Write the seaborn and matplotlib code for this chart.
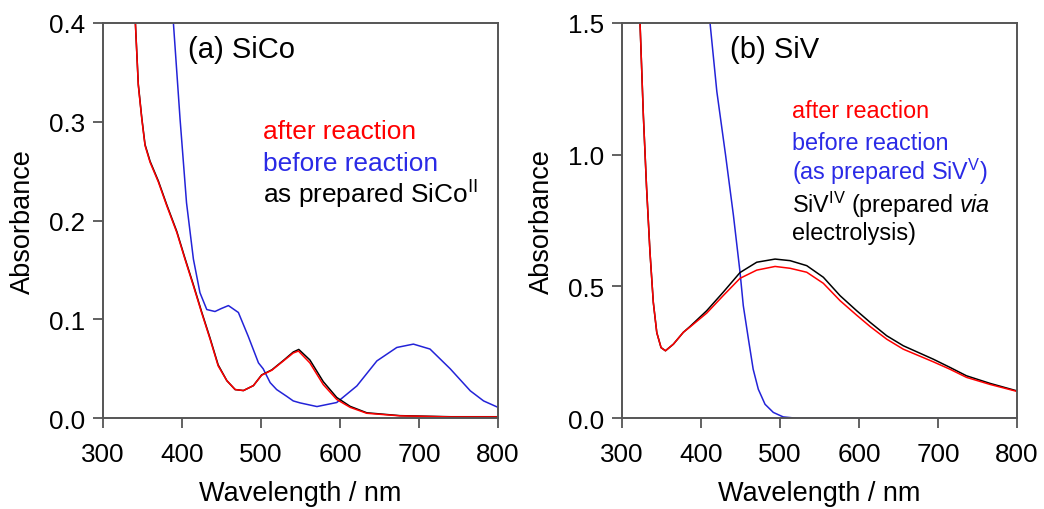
import matplotlib
matplotlib.use("Agg")
import matplotlib.pyplot as plt
import seaborn as sns
import pandas as pd

# ---------------- data ----------------
# Panel (a) SiCo
a_after_wl = [330, 341.3, 345, 349.4, 353.5, 359.9, 370.4, 381, 393.7, 404, 414.7, 425, 435.8, 446, 457, 467.5, 478,
              490.6, 501, 514, 528.6, 541, 547.6, 562, 579, 596, 613, 634, 676, 740, 800]
a_after_A  = [0.52, 0.40, 0.337, 0.303, 0.276, 0.259, 0.239, 0.215, 0.188, 0.161, 0.134, 0.107, 0.080, 0.053, 0.038, 0.029, 0.028,
              0.033, 0.0435, 0.0486, 0.058, 0.066, 0.068, 0.056, 0.034, 0.019, 0.011, 0.005, 0.0024, 0.0013, 0.0013]
a_prep_wl  = [330, 341.3, 345, 349.4, 353.5, 359.9, 370.4, 381, 393.7, 404, 414.7, 425, 435.8, 446, 457, 467.5, 478,
              490.6, 501, 514, 528.6, 541, 548, 562, 579, 596, 613, 634, 676, 740, 800]
a_prep_A   = [0.52, 0.40, 0.338, 0.304, 0.277, 0.260, 0.240, 0.216, 0.189, 0.162, 0.135, 0.108, 0.081, 0.054, 0.038, 0.029, 0.028,
              0.033, 0.0438, 0.049, 0.0585, 0.067, 0.0696, 0.059, 0.037, 0.021, 0.012, 0.0055, 0.0026, 0.0015, 0.0015]
a_before_wl = [380, 389.4, 397.8, 406, 414.7, 423, 431.6, 442, 450, 459, 471.6, 484, 497, 503, 511.8, 520, 533, 541, 549.7,
               571, 596, 621.5, 646.8, 672, 693, 714, 739.6, 765, 781.8, 800]
a_before_A  = [0.53, 0.40, 0.303, 0.218, 0.161, 0.127, 0.110, 0.108, 0.111, 0.114, 0.107, 0.083, 0.056, 0.050, 0.036, 0.029, 0.022, 0.0175, 0.0155,
               0.0118, 0.0159, 0.0327, 0.058, 0.0716, 0.075, 0.070, 0.050, 0.0277, 0.0175, 0.011]

# Panel (b) SiV
b_after_wl = [318, 322.8, 327, 331, 335.4, 339.6, 344, 349.4, 355, 365, 377.6, 386, 407.2, 428, 449.4, 470.5,
              493.7, 512.7, 533.8, 554.8, 576, 597, 614, 635, 656, 694, 715, 736, 766, 799.6]
b_after_A  = [2.0, 1.50, 1.15, 0.88, 0.63, 0.44, 0.325, 0.268, 0.256, 0.281, 0.326, 0.346, 0.399, 0.465, 0.531, 0.562,
              0.576, 0.569, 0.554, 0.512, 0.446, 0.391, 0.348, 0.300, 0.262, 0.214, 0.186, 0.155, 0.128, 0.102]
b_prep_wl  = [318, 322.8, 327, 331, 335.4, 339.6, 344, 349.4, 355, 365, 377.6, 386, 407.2, 428, 449.4, 470.5,
              493.7, 512.7, 533.8, 554.8, 576, 597, 614, 635, 656, 694, 715, 736, 766, 799.6]
b_prep_A   = [2.0, 1.50, 1.15, 0.88, 0.63, 0.44, 0.325, 0.268, 0.256, 0.281, 0.326, 0.348, 0.408, 0.478, 0.553, 0.592,
              0.604, 0.598, 0.579, 0.535, 0.465, 0.408, 0.364, 0.313, 0.275, 0.224, 0.193, 0.161, 0.132, 0.104]
b_before_wl = [405, 411.4, 420, 431, 441, 449.4, 453.5, 460, 466, 472.5, 481, 491.5, 504, 521, 800]
b_before_A  = [1.9, 1.50, 1.24, 1.00, 0.77, 0.553, 0.427, 0.300, 0.186, 0.110, 0.053, 0.022, 0.005, 0.0, 0.0]

x_ticks = [300, 400, 500, 600, 700, 800]
a_yticks = [0.0, 0.1, 0.2, 0.3, 0.4]
b_yticks = [0.0, 0.5, 1.0, 1.5]

# ---------------- style ----------------
sns.set_style("ticks")
plt.rcParams['font.family'] = ['Liberation Sans', 'DejaVu Sans']
plt.rcParams['mathtext.fontset'] = 'custom'
plt.rcParams['mathtext.rm'] = 'Liberation Sans'
plt.rcParams['mathtext.it'] = 'Liberation Sans:italic'
plt.rcParams['text.color'] = 'black'
plt.rcParams['axes.labelcolor'] = 'black'

RED = "#ff0000"
BLUE = "#2323d8"
BLUE_T = "#2a2ae6"
BLACK = "#000000"
SPINE = "#555555"

fig = plt.figure(figsize=(10.44, 5.10), dpi=100)
ax1 = fig.add_axes([0.0984, 0.178, 0.3786, 0.775])
ax2 = fig.add_axes([0.5958, 0.178, 0.3784, 0.775])


def draw(ax, series):
    for wl, A, col in series:
        df = pd.DataFrame({"wl": wl, "A": A})
        sns.lineplot(data=df, x="wl", y="A", ax=ax, color=col, lw=1.1,
                     estimator=None, sort=False)


draw(ax1, [(a_before_wl, a_before_A, BLUE), (a_prep_wl, a_prep_A, BLACK), (a_after_wl, a_after_A, RED)])
draw(ax2, [(b_before_wl, b_before_A, BLUE), (b_prep_wl, b_prep_A, BLACK), (b_after_wl, b_after_A, RED)])

for ax, yt, ylim in [(ax1, a_yticks, (0, 0.4)), (ax2, b_yticks, (0, 1.5))]:
    ax.set_xlim(300, 800)
    ax.set_ylim(*ylim)
    ax.set_xticks(x_ticks)
    ax.set_xticklabels([str(t) for t in x_ticks])
    ax.set_yticks(yt)
    ax.set_yticklabels(["{:.1f}".format(t) for t in yt])
    ax.tick_params(direction="out", length=7, width=1.3, color=SPINE,
                   labelcolor="black", labelsize=18.7)
    ax.tick_params(axis="x", pad=10)
    ax.tick_params(axis="y", pad=6)
    for s in ax.spines.values():
        s.set_color(SPINE)
        s.set_linewidth(1.4)
    ax.set_xlabel("Wavelength / nm", fontsize=19.5, labelpad=10)
    ax.set_ylabel("Absorbance", fontsize=19.5, labelpad=9)

# panel (a) annotations
ax1.text(408, 0.374, "(a) SiCo", fontsize=21, va="center", ha="left")
ax1.text(503, 0.291, "after reaction", color=RED, fontsize=18.9, va="center")
ax1.text(503, 0.258, "before reaction", color=BLUE_T, fontsize=18.9, va="center")
ax1.text(503, 0.227, r"as prepared SiCo$\mathregular{^{II}}$", color=BLACK, fontsize=18.9, va="center")

# panel (b) annotations
ax2.text(437, 1.40, "(b) SiV", fontsize=21, va="center", ha="left")
ax2.text(515, 1.166, "after reaction", color=RED, fontsize=16.8, va="center")
ax2.text(515, 1.048, "before reaction", color=BLUE_T, fontsize=16.8, va="center")
ax2.text(515, 0.938, r"(as prepared SiV$\mathregular{^{V}}$)", color=BLUE_T, fontsize=16.8, va="center")
ax2.text(515, 0.813, r"SiV$\mathregular{^{IV}}$ (prepared $\mathit{via}$", color=BLACK, fontsize=16.8, va="center")
ax2.text(515, 0.706, "electrolysis)", color=BLACK, fontsize=16.8, va="center")

fig.savefig("out.png", dpi=100)
